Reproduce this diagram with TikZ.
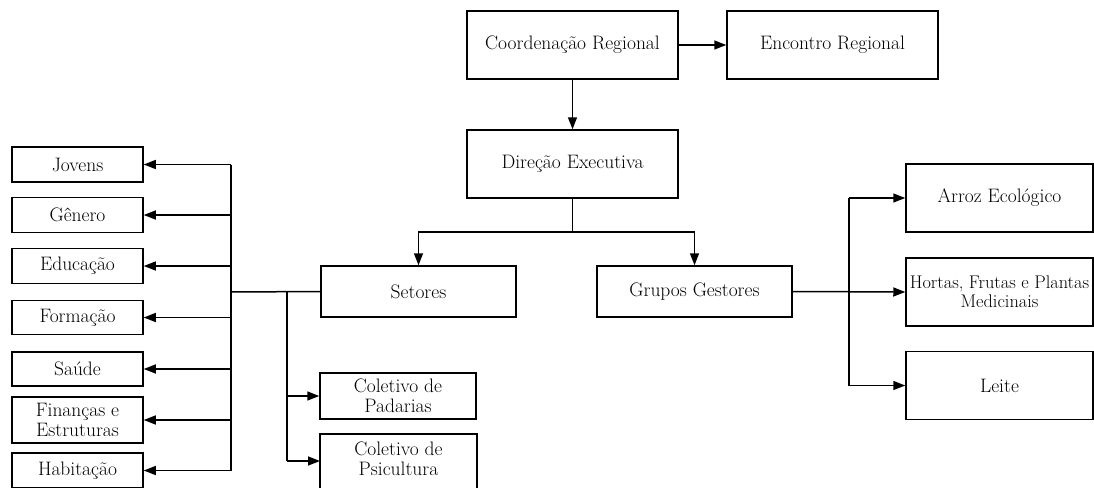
\documentclass[tikz,border=0pt]{standalone}
\usepackage{fontspec}
\usetikzlibrary{arrows.meta,calc}
\begin{document}
\begin{tikzpicture}[x=1pt,y=-1pt,
  every node/.style={font=\fontsize{19.5}{20.5}\selectfont},
  box/.style={draw,line width=1.5pt,rectangle,inner sep=0pt,align=center,anchor=center},
  link/.style={line width=1.5pt},
  arr/.style={line width=1.5pt,-{Triangle[length=12pt,width=9pt]}}]
  \clip (0,0) rectangle (1094,487);
  \fill[white] (0,0) rectangle (1094,487);

  % top levels
  \node[box,minimum width=211pt,minimum height=68pt] (coord) at (572.5,45) {Coordena\c{c}\~ao Regional};
  \node[box,minimum width=211pt,minimum height=68pt] (enc) at (832.5,45) {Encontro Regional};
  \node[box,minimum width=211pt,minimum height=68pt] (dir) at (572.5,164) {Dire\c{c}\~ao Executiva};
  \node[box,minimum width=195pt,minimum height=51pt] (setores) at (418.5,291.5) {Setores};
  \node[box,minimum width=195pt,minimum height=51pt] (grupos) at (694.5,291.5) {Grupos Gestores};

  % productive groups
  \node[box,minimum width=187pt,minimum height=68pt] (arroz) at (999.5,198) {Arroz Ecol\'ogico};
  \node[box,minimum width=187pt,minimum height=68pt,font=\fontsize{18.3}{19}\selectfont] (hortas) at (999.5,292) {Hortas, Frutas e Plantas\\Medicinais};
  \node[box,minimum width=187pt,minimum height=68pt] (leite) at (999.5,385.5) {Leite};

  % sectors
  \node[box,minimum width=131pt,minimum height=35pt] (jovens) at (77.5,164.5) {Jovens};
  \node[box,minimum width=131pt,minimum height=35pt] (genero) at (77.5,215) {G\^enero};
  \node[box,minimum width=131pt,minimum height=35pt] (educacao) at (77.5,266) {Educa\c{c}\~ao};
  \node[box,minimum width=131pt,minimum height=34pt] (formacao) at (77.5,317.5) {Forma\c{c}\~ao};
  \node[box,minimum width=131pt,minimum height=34pt] (saude) at (77.5,369) {Sa\'ude};
  \node[box,minimum width=131pt,minimum height=46pt] (financas) at (77.5,420) {Finan\c{c}as e\\Estruturas};
  \node[box,minimum width=131pt,minimum height=35pt] (habitacao) at (77.5,470.5) {Habita\c{c}\~ao};

  % collectives (the lower box runs past the bottom edge)
  \node[box,minimum width=156pt,minimum height=46pt] (padarias) at (398,396) {Coletivo de\\Padarias};
  \node[box,minimum width=157pt,minimum height=60pt] (psicultura) at (398.5,464) {};
  \node[align=center,inner sep=0pt] (psictext) at (398.5,459) {Coletivo de\\Psicultura};

  % junction points
  \coordinate (split) at (572.5,232);
  \coordinate (lbus) at (231,292);
  \coordinate (cbus) at (287,292);
  \coordinate (rbus) at (849,292);
  \coordinate (pin) at (320,461);

  % connectors
  \draw[arr] (coord) -- (dir);
  \draw[arr] (coord) -- (enc);
  \draw[link] (dir) -- (split);
  \draw[arr] (split) -| (setores.north);
  \draw[arr] (split) -| (grupos.north);

  \draw[arr] (grupos.east) -- (hortas.west);
  \draw[link] (arroz.west -| rbus) -- (leite.west -| rbus);
  \draw[arr] (arroz.west -| rbus) -- (arroz.west);
  \draw[arr] (leite.west -| rbus) -- (leite.west);

  \draw[link] (setores.west) -- (lbus);
  \draw[link] (jovens.east -| lbus) -- (habitacao.east -| lbus);
  \foreach \n in {jovens,genero,educacao,formacao,saude,financas,habitacao}
    \draw[arr] (\n.east -| lbus) -- (\n.east);

  \draw[link] (cbus) -- (pin -| cbus);
  \draw[arr] (padarias.west -| cbus) -- (padarias.west);
  \draw[arr] (pin -| cbus) -- (pin);
\end{tikzpicture}
\end{document}
